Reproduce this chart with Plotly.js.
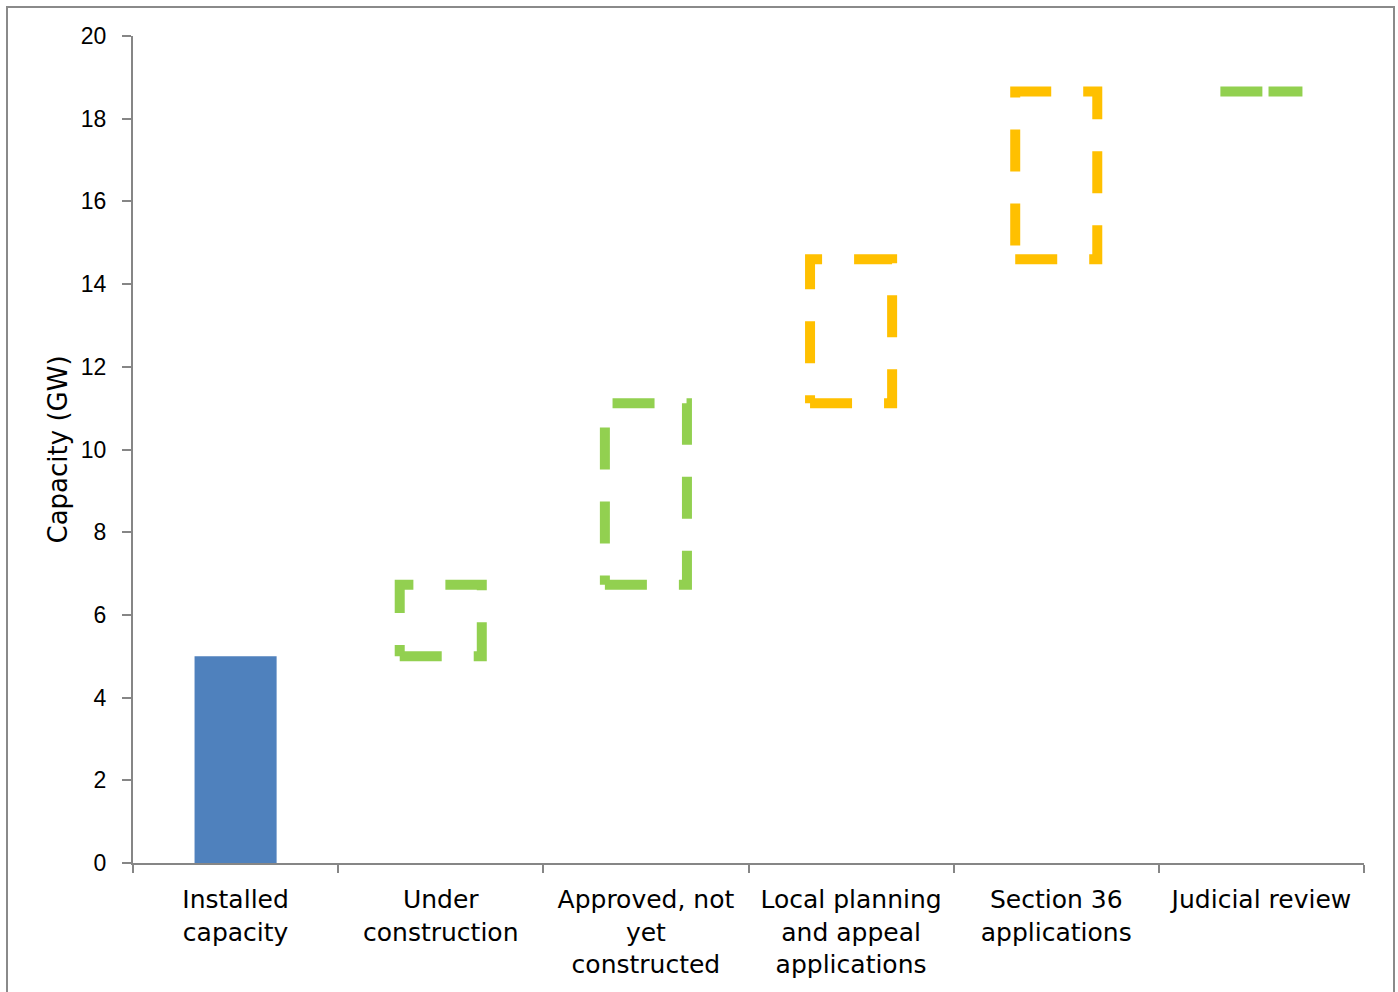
<!DOCTYPE html>
<html><head><meta charset="utf-8">
<script src="https://cdn.plot.ly/plotly-3.0.1.min.js"></script>
<style>
html,body{margin:0;padding:0;overflow:hidden;background:#fff}
#chart{width:1398px;height:992px;position:absolute;left:0;top:0}
#frame{position:absolute;left:6px;top:6px;width:1385px;height:1000px;border:2px solid #8a8a8a;pointer-events:none}
</style></head><body>
<div id="chart"></div><div id="frame"></div>
<script>
// ---- data ----
const categories = ["Installed<br>capacity", "Under<br>construction", "Approved, not<br>yet<br>constructed", "Local planning<br>and appeal<br>applications", "Section 36<br>applications", "Judicial review"];
const installedCapacity = 5.0;                       // GW
const pipelineAdditions = [1.73, 4.39, 3.48, 4.06, 0.04]; // GW, for categories 2..6
const yTickValues = [0, 2, 4, 6, 8, 10, 12, 14, 16, 18, 20];

// ---- styles ----
const boxColors = ["#92D050", "#92D050", "#FFC000", "#FFC000", "#92D050"];
const barColor = "#4F81BD";
const axisGray = "#868686";
const halfWidth = 0.2;

const traces = [{
  type: "bar",
  x: categories,
  y: [installedCapacity].concat(pipelineAdditions.map(() => null)),
  width: 0.4,
  marker: {color: barColor, line: {width: 0}},
  hoverinfo: "skip",
  showlegend: false
}];

let level = installedCapacity;
pipelineAdditions.forEach((add, i) => {
  const base = level, top = level + add;
  level = top;
  const c = i + 1;
  traces.push({
    type: "scatter",
    mode: "lines",
    xaxis: "x2", yaxis: "y",
    x: [c - halfWidth, c + halfWidth, c + halfWidth, c - halfWidth, c - halfWidth],
    y: [base, base, top, top, base],
    line: {color: boxColors[i], width: 10, dash: "42px,32px"},
    hoverinfo: "skip",
    showlegend: false
  });
});

const layout = {
  width: 1398, height: 992,
  margin: {l: 133, r: 34, t: 36, b: 129},
  paper_bgcolor: "rgba(0,0,0,0)",
  plot_bgcolor: "rgba(0,0,0,0)",
  showlegend: false,
  xaxis: {
    type: "category",
    categoryorder: "array",
    categoryarray: categories,
    range: [-0.5, categories.length - 0.5],
    tickson: "boundaries",
    ticks: "outside", ticklen: 8, tickwidth: 2, tickcolor: axisGray,
    showline: true, linecolor: axisGray, linewidth: 2,
    showgrid: false, zeroline: false,
    ticklabelstandoff: 13,
    tickfont: {family: "DejaVu Sans", size: 25, color: "#000"},
    fixedrange: true
  },
  xaxis2: {
    overlaying: "x", anchor: "y",
    range: [-0.5, categories.length - 0.5],
    visible: false, fixedrange: true
  },
  yaxis: {
    range: [0, 20],
    tickvals: yTickValues,
    ticktext: yTickValues.map(String),
    ticks: "outside", ticklen: 9, tickwidth: 2, tickcolor: axisGray,
    showline: true, linecolor: axisGray, linewidth: 2,
    showgrid: false, zeroline: false,
    ticklabelstandoff: 11,
    tickfont: {family: "Liberation Sans", size: 23, color: "#000"},
    title: {text: "Capacity (GW)", font: {family: "DejaVu Sans", size: 26, color: "#000"}, standoff: 6},
    fixedrange: true
  },
  bargap: 0.6
};

Plotly.newPlot("chart", traces, layout, {displayModeBar: false, staticPlot: true});
</script>
</body></html>
